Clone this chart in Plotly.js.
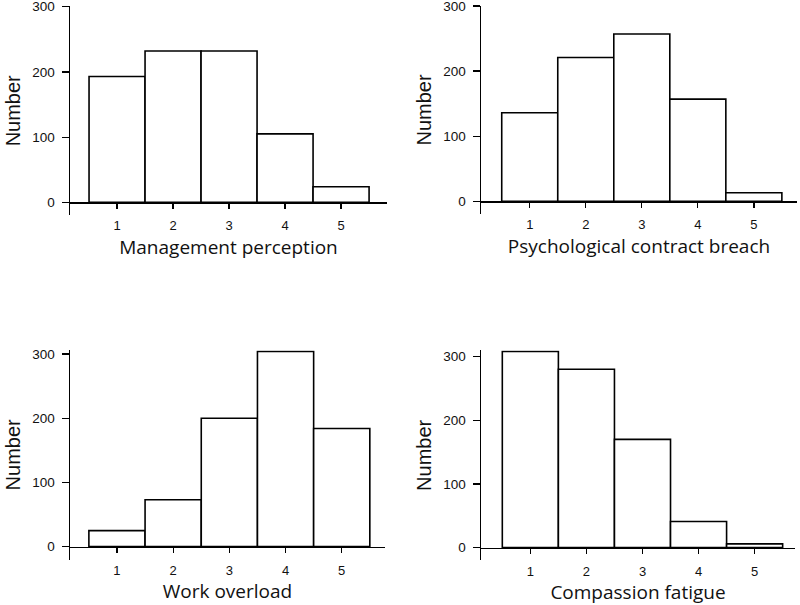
<!DOCTYPE html>
<html><head><meta charset="utf-8">
<script src="https://cdn.plot.ly/plotly-3.0.1.min.js"></script>
<style>html,body{margin:0;padding:0;background:#fff}</style>
</head><body><div id="chart" style="width:800px;height:605px"></div>
<script>
const categories = [1, 2, 3, 4, 5];
const tickLabels = ['1', '2', '3', '4', '5'];
const managementPerception = [193, 232, 232, 105, 24];
const psychologicalContractBreach = [136, 221, 257, 157, 13];
const workOverload = [25, 73, 200, 304, 184];
const compassionFatigue = [308, 280, 170, 41, 6];
const panelTitles = ['Management perception', 'Psychological contract breach', 'Work overload', 'Compassion fatigue'];
const yTitle = 'Number';
const yTicks = [0, 100, 200, 300];

const W = 800, H = 605;
const panels = [
  {series: managementPerception, xpx: [70, 387], ypx: [6.2, 215.4], yr: [-20, 300.8], xr: [0.16, 5.82]},
  {series: psychologicalContractBreach, xpx: [481, 797], ypx: [5.5, 214.3], yr: [-20, 300.8], xr: [0.13, 5.77]},
  {series: workOverload, xpx: [70, 385], ypx: [350.2, 559.5], yr: [-20, 306], xr: [0.164, 5.77]},
  {series: compassionFatigue, xpx: [481, 795], ypx: [350.2, 560.4], yr: [-20, 310], xr: [0.12, 5.72]}
];

const tickFont = {family: 'Liberation Sans, Arial, sans-serif', size: 13, color: '#111'};
const yTickFont = {family: 'Liberation Sans, Arial, sans-serif', size: 13.5, color: '#111'};
const data = [];
const layout = {
  width: W, height: H,
  margin: {l: 0, r: 0, t: 0, b: 0},
  paper_bgcolor: '#fff', plot_bgcolor: '#fff',
  showlegend: false,
  bargap: 0
};

panels.forEach((p, i) => {
  const n = i + 1;
  const xk = n === 1 ? 'xaxis' : 'xaxis' + n;
  const yk = n === 1 ? 'yaxis' : 'yaxis' + n;
  const xr = n === 1 ? 'x' : 'x' + n;
  const yr = n === 1 ? 'y' : 'y' + n;
  data.push({
    type: 'bar', x: categories, y: p.series, xaxis: xr, yaxis: yr,
    width: 1,
    marker: {color: '#ffffff', line: {color: '#000', width: 1.6}},
    hoverinfo: 'x+y'
  });
  const yd = [1 - p.ypx[1] / H, 1 - p.ypx[0] / H];
  const xd = [p.xpx[0] / W, p.xpx[1] / W];
  const zeroPos = yd[0] + (0 - p.yr[0]) / (p.yr[1] - p.yr[0]) * (yd[1] - yd[0]);
  layout[xk] = {
    domain: xd, range: p.xr, anchor: 'free', position: zeroPos,
    showline: true, linecolor: '#000', linewidth: 1.5,
    ticks: 'outside', ticklen: 5, tickwidth: 1.3, tickcolor: '#000',
    ticklabelstandoff: 6, ticklabeloverflow: 'allow',
    tickvals: categories, ticktext: tickLabels, tickfont: tickFont,
    showgrid: false, zeroline: false, fixedrange: true,
    title: {text: panelTitles[i], font: {family: 'Open Sans, sans-serif', size: 19, color: '#111'}, standoff: 8}
  };
  layout[yk] = {
    domain: yd, range: p.yr, anchor: xr,
    showline: true, linecolor: '#000', linewidth: 1.5,
    ticks: 'outside', ticklen: 7, tickwidth: 1.3, tickcolor: '#000',
    ticklabelstandoff: 4, ticklabeloverflow: 'allow',
    tickvals: yTicks, tickfont: yTickFont,
    showgrid: false, zeroline: false, fixedrange: true,
    title: {text: yTitle, font: {family: 'Liberation Sans, Arial, sans-serif', size: 20, color: '#111'}, standoff: 6}
  };
});

Plotly.newPlot('chart', data, layout, {displayModeBar: false, staticPlot: true});
</script>
</body></html>
